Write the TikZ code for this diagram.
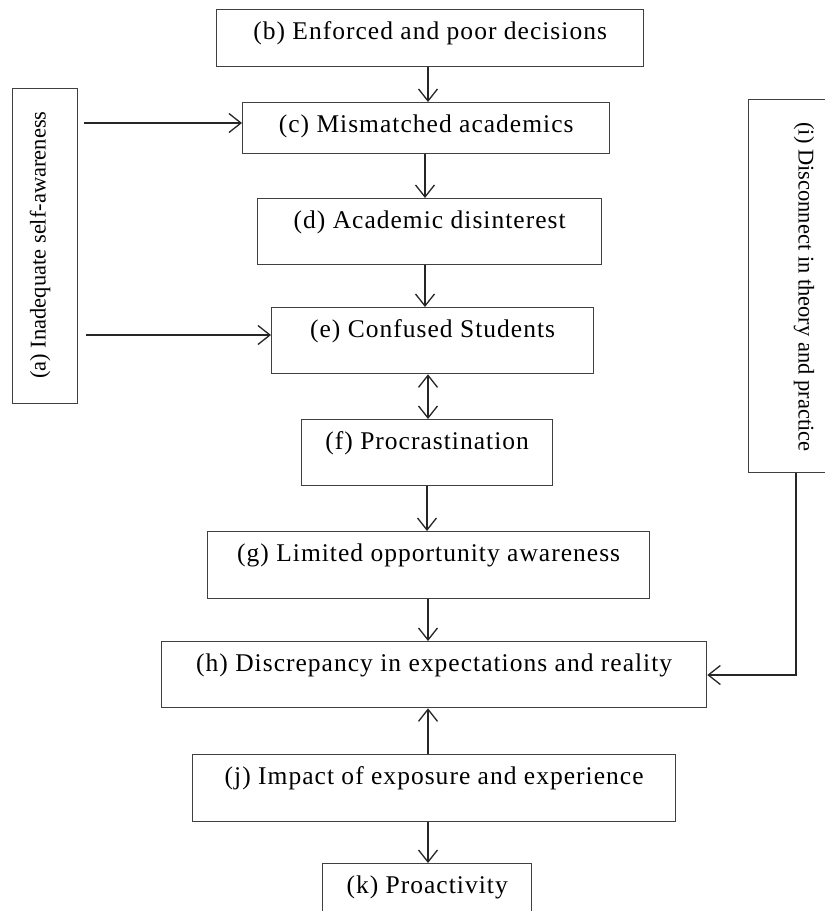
\documentclass[tikz,border=0pt]{standalone}
\usepackage{fontspec}
\setmainfont{Liberation Serif}
\newfontfamily\boxfont{Liberation Serif}[LetterSpace=4.0]
\usetikzlibrary{arrows.meta}
\begin{document}
\begin{tikzpicture}[x=1pt,y=-1pt,
  box/.style={draw=black!75, line width=1.3pt, anchor=north west,
    inner xsep=0pt, inner ysep=0pt, text height=29.5pt,
    font=\boxfont\fontsize{25.5}{30}\selectfont},
  sidebox/.style={draw=black!75, line width=1.3pt, anchor=north west, inner sep=0pt},
  sidetext/.style={inner sep=0pt, font=\fontsize{22.5}{27}\selectfont},
  tip/.tip={Straight Barb[length=12pt,width=19pt]},
  arr/.style={draw=black!85, line width=1.3pt, -tip},
  darr/.style={draw=black!85, line width=1.3pt, tip-tip}]
\fill[white] (0,0) rectangle (825,911);
\clip (0,0) rectangle (825,911);
% main column
\node[box, minimum width=427pt, text depth=27.5pt] (b) at (216,9) {(b) Enforced and poor decisions};
\node[box, minimum width=367pt, text depth=21.5pt] (c) at (242,102) {(c) Mismatched academics};
\node[box, minimum width=344pt, text depth=36.5pt] (d) at (257,198) {(d) Academic disinterest};
\node[box, minimum width=322pt, text depth=36.5pt] (e) at (271,307) {(e) Confused Students};
\node[box, minimum width=251pt, text depth=36.5pt] (f) at (301,419) {(f) Procrastination};
\node[box, minimum width=442pt, text depth=37.5pt] (g) at (207,531) {(g) Limited opportunity awareness};
\node[box, minimum width=545pt, text depth=36.5pt] (h) at (161,641) {(h) Discrepancy in expectations and reality};
\node[box, minimum width=483pt, text depth=37.5pt] (j) at (192,754) {(j) Impact of exposure and experience};
\node[box, minimum width=209pt, text depth=50.5pt] (k) at (322,863) {(k) Proactivity};
% side boxes
\node[sidebox, minimum width=65pt, minimum height=315pt] (a) at (12,88) {};
\node[sidetext, rotate=90] (atext) at (40,245) {(a) Inadequate self-awareness};
\node[sidebox, minimum width=103pt, minimum height=373pt] (i) at (748,99) {};
\node[sidetext, rotate=-90] (itext) at (804,287) {(i) Disconnect in theory and practice};
% helper coordinates
\coordinate (x425) at (425,0);
\coordinate (x427) at (427,0);
\coordinate (x428) at (428,0);
\coordinate (xi) at (796,0);
\coordinate (yc) at (0,123);
\coordinate (ye) at (0,335);
\coordinate (yh) at (0,675);
% connectors
\draw[arr] (b.south -| x428) -- (c.north -| x428);
\draw[arr] (c.south -| x425) -- (d.north -| x425);
\draw[arr] (d.south -| x425) -- (e.north -| x425);
\draw[darr] (e.south -| x428) -- (f.north -| x428);
\draw[arr] (f.south -| x427) -- (g.north -| x427);
\draw[arr] (g.south -| x428) -- (h.north -| x428);
\draw[arr] (j.north -| x428) -- (h.south -| x428);
\draw[arr] (j.south -| x428) -- (k.north -| x428);
\draw[arr, shorten <=6pt] (a.east |- yc) -- (c.west |- yc);
\draw[arr, shorten <=8pt] (a.east |- ye) -- (e.west |- ye);
\draw[arr] (i.south -| xi) |- (h.east |- yh);
\end{tikzpicture}
\end{document}
